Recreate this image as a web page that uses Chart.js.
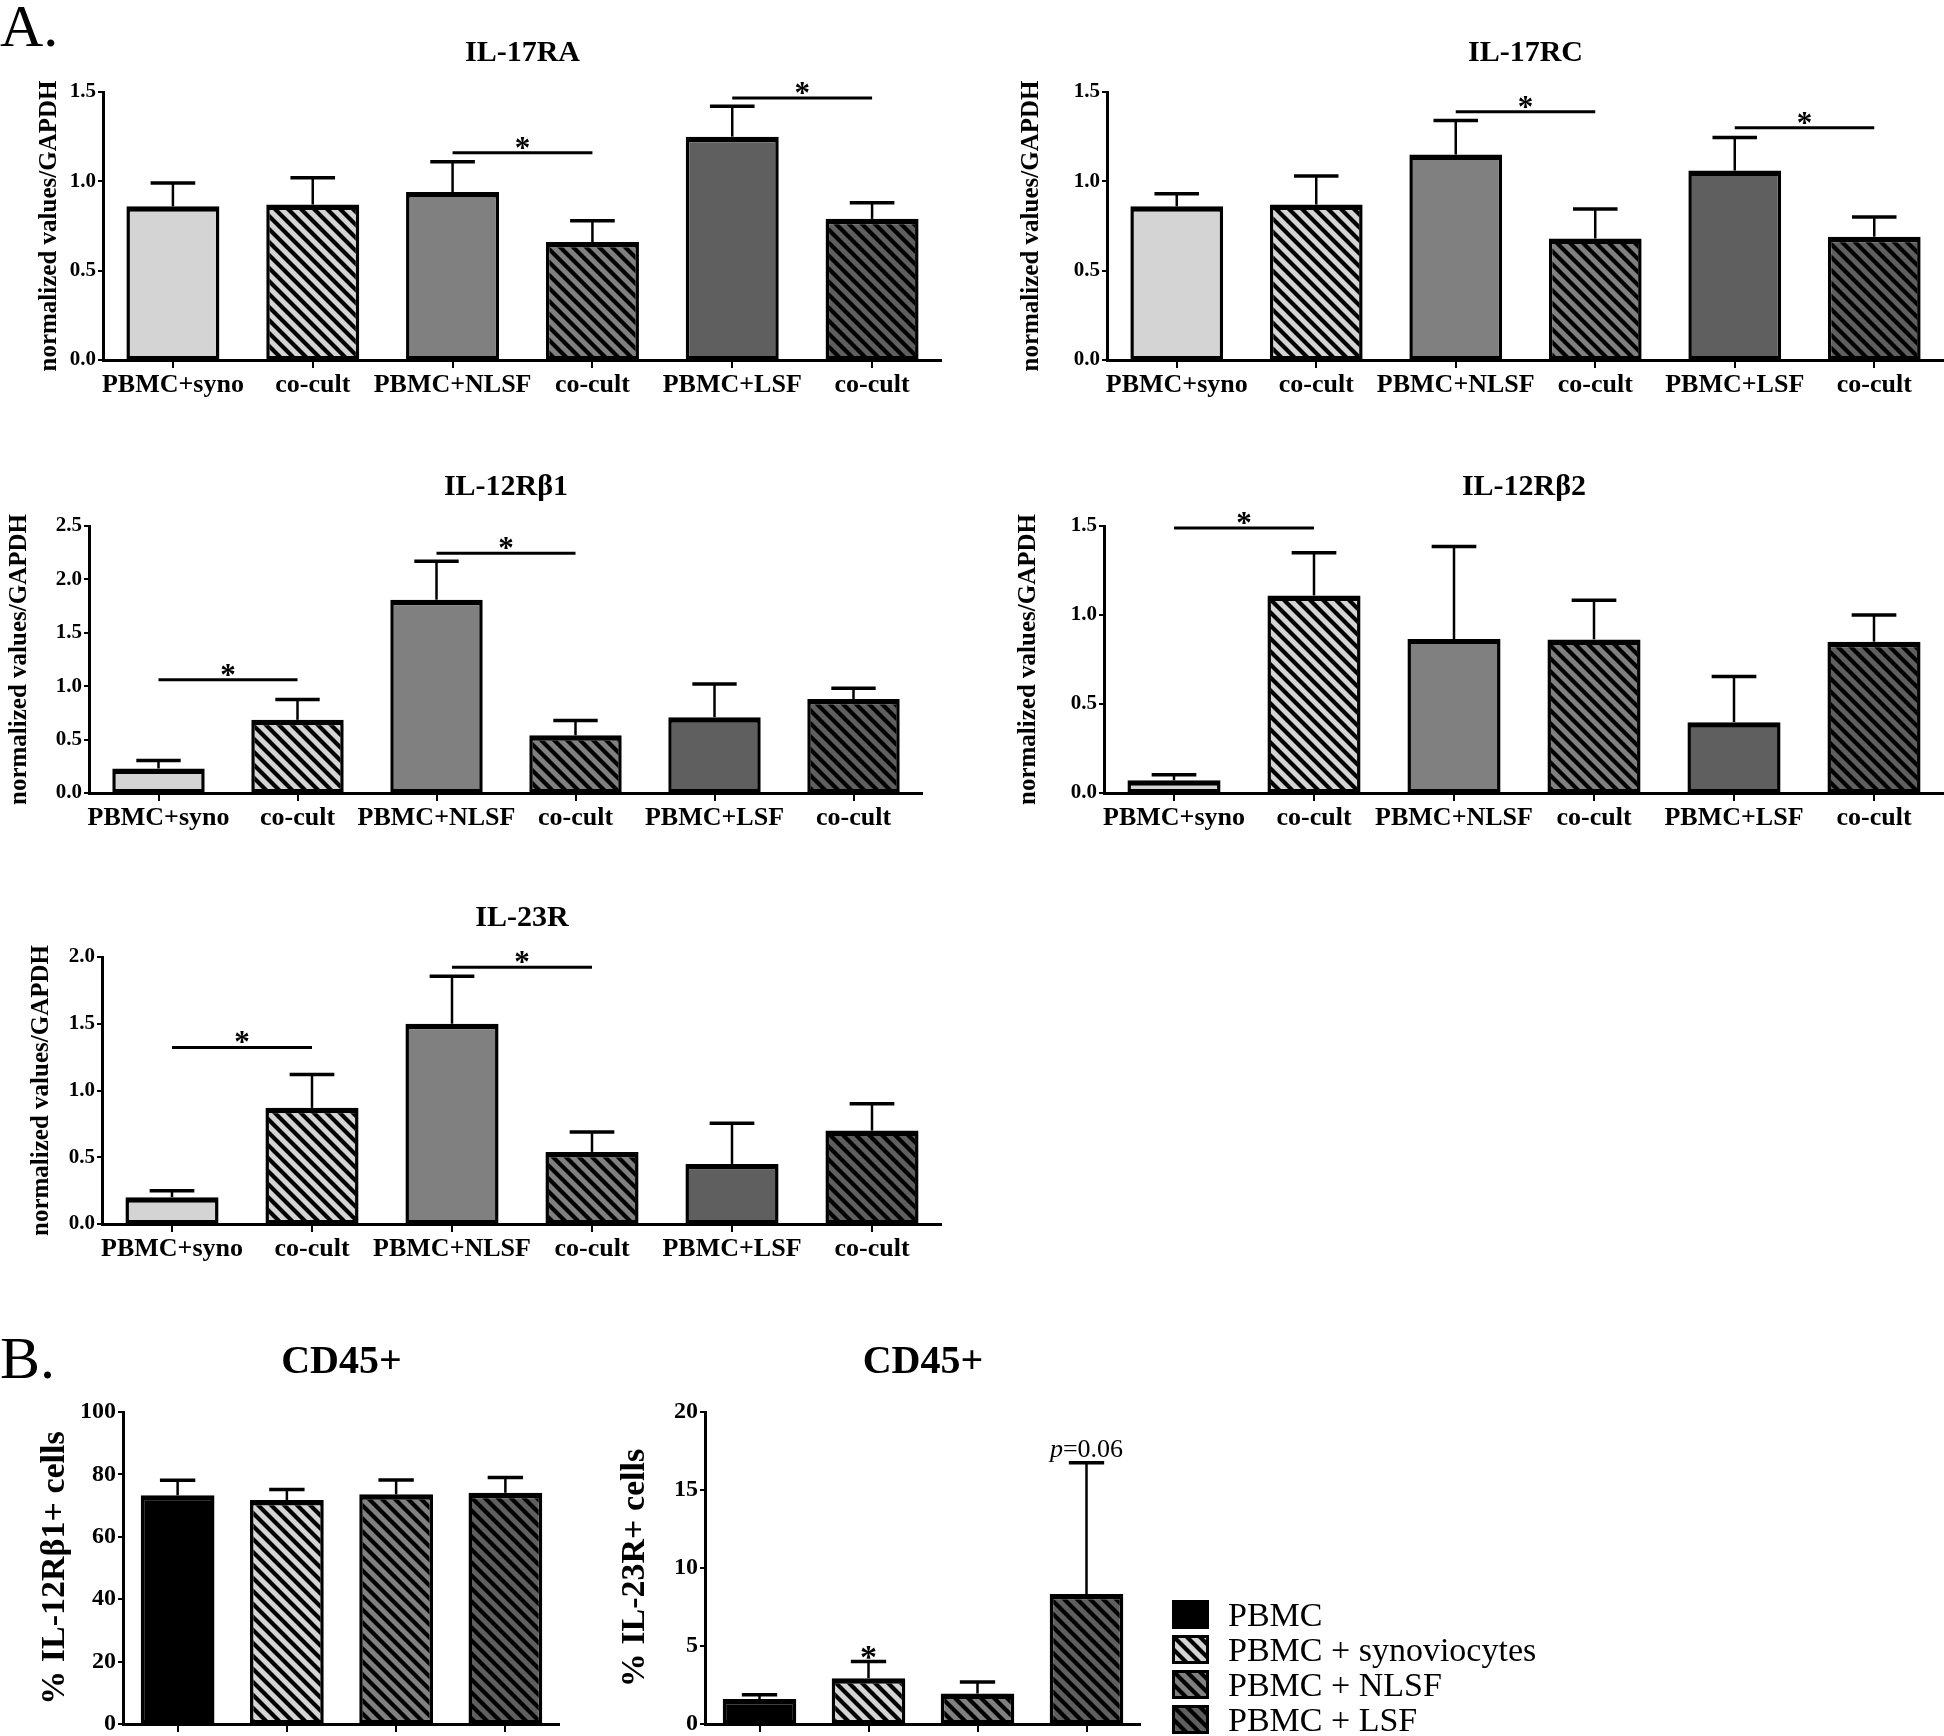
<!DOCTYPE html>
<html>
<head>
<meta charset="utf-8">
<script src="https://cdn.jsdelivr.net/npm/chart.js@4.4.1/dist/chart.umd.min.js"></script>
<style>
  html, body { margin: 0; padding: 0; background: #fff; }
  body { position: relative; width: 1944px; height: 1736px; overflow: hidden; font-family: 'Liberation Serif', serif; }
  canvas.panel { position: absolute; }
  .letter { position: absolute; left: 0; font-size: 60px; line-height: 60px; color: #000; }
  #legend { position: absolute; left: 1172px; top: 1597px; }
  .lg-row { display: flex; align-items: center; height: 35px; }
  .lg-row span { margin-left: 19px; font-size: 34px; line-height: 35px; color: #000; }
</style>
</head>
<body>
<div class="letter" style="top:-4px">A.</div>
<div class="letter" style="top:1328px">B.</div>
<div id="legend"></div>
<script>
(function () {
  'use strict';

  // ---- data (A: qPCR, normalized values / GAPDH) ----
  const groupLabels = ['PBMC+syno', 'co-cult', 'PBMC+NLSF', 'co-cult', 'PBMC+LSF', 'co-cult'];
  const groupFills = ['light', 'lightHatch', 'mid', 'midHatch', 'dark', 'darkHatch'];

  const il17raMean = [0.86, 0.87, 0.94, 0.66, 1.25, 0.79];
  const il17raSem = [0.13, 0.15, 0.17, 0.12, 0.17, 0.09];
  const il17raSig = [[2, 3, 1.16], [4, 5, 1.466]];

  const il17rcMean = [0.86, 0.87, 1.15, 0.68, 1.06, 0.69];
  const il17rcSem = [0.07, 0.16, 0.19, 0.165, 0.185, 0.11];
  const il17rcSig = [[2, 3, 1.39], [4, 5, 1.30]];

  const il12rb1Mean = [0.23, 0.685, 1.81, 0.54, 0.71, 0.88];
  const il12rb1Sem = [0.075, 0.19, 0.36, 0.14, 0.31, 0.10];
  const il12rb1Sig = [[0, 1, 1.06], [2, 3, 2.245]];

  const il12rb2Mean = [0.071, 1.11, 0.865, 0.863, 0.398, 0.85];
  const il12rb2Sem = [0.032, 0.24, 0.52, 0.22, 0.256, 0.15];
  const il12rb2Sig = [[0, 1, 1.489]];

  const il23rMean = [0.20, 0.87, 1.50, 0.54, 0.45, 0.70];
  const il23rSem = [0.05, 0.25, 0.355, 0.15, 0.305, 0.20];
  const il23rSig = [[0, 1, 1.323], [2, 3, 1.923]];

  // ---- data (B: flow cytometry, CD45+ cells) ----
  const cd45Groups = ['PBMC', 'PBMC + synoviocytes', 'PBMC + NLSF', 'PBMC + LSF'];
  const cd45Fills = ['black', 'lightHatch', 'midHatch', 'darkHatch'];

  const pctIl12rb1Mean = [73.3, 71.8, 73.6, 74.1];
  const pctIl12rb1Sem = [4.8, 3.4, 4.6, 4.9];

  const pctIl23rMean = [1.6, 2.93, 1.95, 8.33];
  const pctIl23rSem = [0.28, 1.07, 0.75, 8.42];
  const pctIl23rNotes = [[1, '*'], [3, 'p=0.06']];

  const FONT = "'Liberation Serif', serif";
  Chart.defaults.font.family = FONT;
  Chart.defaults.color = '#000';

  const greys = { light: '#d4d4d4', mid: '#808080', dark: '#5f5f5f', black: '#000000' };

  function hatch(bg) {
    const s = 13;
    const c = document.createElement('canvas');
    c.width = s;
    c.height = s;
    const g = c.getContext('2d');
    g.fillStyle = bg;
    g.fillRect(0, 0, s, s);
    g.strokeStyle = '#000';
    g.lineWidth = 4.2;
    g.beginPath();
    for (const o of [-s, 0, s]) {
      g.moveTo(o - 2, -2);
      g.lineTo(o + s + 2, s + 2);
    }
    g.stroke();
    return g.createPattern(c, 'repeat');
  }

  function fillFor(key) {
    if (key.endsWith('Hatch')) return hatch(greys[key.replace('Hatch', '')]);
    return greys[key];
  }

  const errorBars = {
    id: 'errorBars',
    afterDatasetsDraw(chart) {
      const { ctx, scales: { y } } = chart;
      const ds = chart.data.datasets[0];
      const meta = chart.getDatasetMeta(0);
      ctx.save();
      ctx.strokeStyle = '#000';
      meta.data.forEach((bar, i) => {
        const base = y.getPixelForValue(ds.data[i]);
        const top = y.getPixelForValue(ds.data[i] + ds.sem[i]);
        const half = bar.width * 0.24;
        ctx.lineWidth = 2.5;
        ctx.beginPath();
        ctx.moveTo(bar.x, base);
        ctx.lineTo(bar.x, top);
        ctx.stroke();
        ctx.lineWidth = 3.5;
        ctx.beginPath();
        ctx.moveTo(bar.x - half, top);
        ctx.lineTo(bar.x + half, top);
        ctx.stroke();
      });
      ctx.restore();
    },
  };

  function marksPlugin(p) {
    return {
      id: 'marks',
      afterDatasetsDraw(chart) {
        const { ctx, scales: { x, y } } = chart;
        const ds = chart.data.datasets[0];
        ctx.save();
        ctx.strokeStyle = '#000';
        ctx.fillStyle = '#000';
        ctx.textAlign = 'center';
        ctx.textBaseline = 'alphabetic';
        (p.sig || []).forEach(([a, b, v]) => {
          const yy = y.getPixelForValue(v);
          const x1 = x.getPixelForValue(a);
          const x2 = x.getPixelForValue(b);
          ctx.lineWidth = 3;
          ctx.beginPath();
          ctx.moveTo(x1, yy);
          ctx.lineTo(x2, yy);
          ctx.stroke();
          ctx.font = 'bold 31px ' + FONT;
          ctx.fillText('*', (x1 + x2) / 2, yy + 5);
        });
        (p.notes || []).forEach(([i, text]) => {
          const cx = x.getPixelForValue(i);
          const top = y.getPixelForValue(ds.data[i] + ds.sem[i]);
          if (text === '*') {
            ctx.font = 'bold 34px ' + FONT;
            ctx.textAlign = 'center';
            ctx.fillText('*', cx, top + 6);
          } else {
            ctx.font = 'italic 26px ' + FONT;
            const wp = ctx.measureText('p').width;
            ctx.font = '26px ' + FONT;
            const rest = text.slice(1);
            const wr = ctx.measureText(rest).width;
            const x0 = cx - (wp + wr) / 2;
            ctx.textAlign = 'left';
            ctx.font = 'italic 26px ' + FONT;
            ctx.fillText('p', x0, top - 6);
            ctx.font = '26px ' + FONT;
            ctx.fillText(rest, x0 + wp, top - 6);
          }
        });
        ctx.restore();
      },
    };
  }

  function drawPanel(p) {
    const canvas = document.createElement('canvas');
    canvas.className = 'panel';
    canvas.width = p.yw + p.area.w;
    canvas.height = p.titleSpace + p.area.h + p.xh;
    canvas.style.left = (p.area.x - p.yw) + 'px';
    canvas.style.top = (p.area.y - p.titleSpace) + 'px';
    document.body.appendChild(canvas);

    const titleLH = p.titleSize * 1.2;
    const titlePadTop = p.titleSpace - p.titleGap - titleLH / 2;
    const titlePadBottom = p.titleSpace - titlePadTop - titleLH;
    const yTitleLH = p.yTitleSize * 1.2;

    new Chart(canvas, {
      type: 'bar',
      data: {
        labels: p.labels,
        datasets: [{
          data: p.means,
          sem: p.sems,
          backgroundColor: p.fills.map(fillFor),
          borderColor: '#000',
          borderWidth: { top: 5.5, left: 3.5, right: 3.5, bottom: 3 },
          borderSkipped: false,
          categoryPercentage: 1,
          barPercentage: p.barPct,
        }],
      },
      options: {
        responsive: false,
        animation: false,
        events: [],
        devicePixelRatio: 1,
        layout: { padding: 0 },
        plugins: {
          legend: { display: false },
          tooltip: { enabled: false },
          title: {
            display: true,
            text: p.title,
            fullSize: false,
            color: '#000',
            font: { size: p.titleSize, weight: 'bold', lineHeight: 1.2 },
            padding: { top: titlePadTop, bottom: titlePadBottom },
          },
        },
        scales: {
          x: {
            afterFit: (s) => { s.height = p.xh; },
            border: { display: true, color: '#000', width: 3 },
            grid: { offset: false, drawOnChartArea: false, color: '#000', lineWidth: 2, tickLength: 8 },
            ticks: {
              autoSkip: false,
              maxRotation: 0,
              minRotation: 0,
              padding: 2,
              color: '#000',
              font: { size: 26, weight: 'bold' },
              callback: function (v) { return p.showX ? this.getLabelForValue(v) : ''; },
            },
          },
          y: {
            min: 0,
            max: p.yMax,
            afterFit: (s) => { s.width = p.yw; },
            border: { display: true, color: '#000', width: 3 },
            grid: { drawOnChartArea: false, color: '#000', lineWidth: 2, tickLength: 5 },
            ticks: {
              stepSize: p.yStep,
              padding: 2,
              color: '#000',
              font: { size: p.tickSize, weight: 'bold' },
              callback: (v) => (p.decimals ? Number(v).toFixed(1) : v),
            },
            title: {
              display: true,
              text: p.yTitle,
              color: '#000',
              font: { size: p.yTitleSize, weight: 'bold', lineHeight: 1.2 },
              padding: { top: p.yLabelX - (p.area.x - p.yw) - yTitleLH / 2, bottom: 0 },
            },
          },
        },
      },
      plugins: [errorBars, marksPlugin(p)],
    });
  }

  const aBase = {
    labels: groupLabels,
    fills: groupFills,
    titleSpace: 80,
    titleGap: 39,
    titleSize: 30,
    xh: 60,
    barPct: 0.665,
    yTitle: 'normalized values/GAPDH',
    yTitleSize: 25,
    tickSize: 21,
    decimals: true,
    showX: true,
  };

  drawPanel({ ...aBase, title: 'IL-17RA', means: il17raMean, sems: il17raSem, sig: il17raSig,
    yMax: 1.5, yStep: 0.5, area: { x: 103, y: 92, w: 839, h: 268 }, yw: 103, yLabelX: 50 });
  drawPanel({ ...aBase, title: 'IL-17RC', means: il17rcMean, sems: il17rcSem, sig: il17rcSig,
    yMax: 1.5, yStep: 0.5, area: { x: 1107, y: 92, w: 837, h: 268 }, yw: 106, yLabelX: 1032 });
  drawPanel({ ...aBase, title: 'IL-12Rβ1', means: il12rb1Mean, sems: il12rb1Sem, sig: il12rb1Sig,
    yMax: 2.5, yStep: 0.5, area: { x: 89, y: 526, w: 834, h: 267 }, yw: 89, yLabelX: 20 });
  drawPanel({ ...aBase, title: 'IL-12Rβ2', means: il12rb2Mean, sems: il12rb2Sem, sig: il12rb2Sig,
    yMax: 1.5, yStep: 0.5, area: { x: 1104, y: 526, w: 840, h: 267 }, yw: 104, yLabelX: 1029 });
  drawPanel({ ...aBase, title: 'IL-23R', means: il23rMean, sems: il23rSem, sig: il23rSig,
    yMax: 2.0, yStep: 0.5, area: { x: 102, y: 957, w: 840, h: 267 }, yw: 102, yLabelX: 42 });

  const bBase = {
    labels: cd45Groups,
    fills: cd45Fills,
    title: 'CD45+',
    titleSpace: 100,
    titleGap: 49,
    titleSize: 40,
    xh: 20,
    barPct: 0.675,
    yTitleSize: 34,
    tickSize: 24,
    decimals: false,
    showX: false,
    yw: 123,
  };

  drawPanel({ ...bBase, means: pctIl12rb1Mean, sems: pctIl12rb1Sem, yTitle: '% IL-12Rβ1+ cells',
    yMax: 100, yStep: 20, area: { x: 123, y: 1412, w: 437, h: 312 }, yLabelX: 55 });
  drawPanel({ ...bBase, means: pctIl23rMean, sems: pctIl23rSem, notes: pctIl23rNotes, yTitle: '% IL-23R+ cells',
    yMax: 20, yStep: 5, area: { x: 705, y: 1412, w: 436, h: 312 }, yLabelX: 635 });

  // legend for panel B
  const legend = document.getElementById('legend');
  cd45Groups.forEach((name, i) => {
    const row = document.createElement('div');
    row.className = 'lg-row';
    const sw = document.createElement('canvas');
    sw.width = 37;
    sw.height = 29;
    const g = sw.getContext('2d');
    g.fillStyle = fillFor(cd45Fills[i]);
    g.fillRect(0, 0, 37, 29);
    g.strokeStyle = '#000';
    g.lineWidth = 3;
    g.strokeRect(1.5, 1.5, 34, 26);
    const label = document.createElement('span');
    label.textContent = name;
    row.appendChild(sw);
    row.appendChild(label);
    legend.appendChild(row);
  });
})();
</script>
</body>
</html>
